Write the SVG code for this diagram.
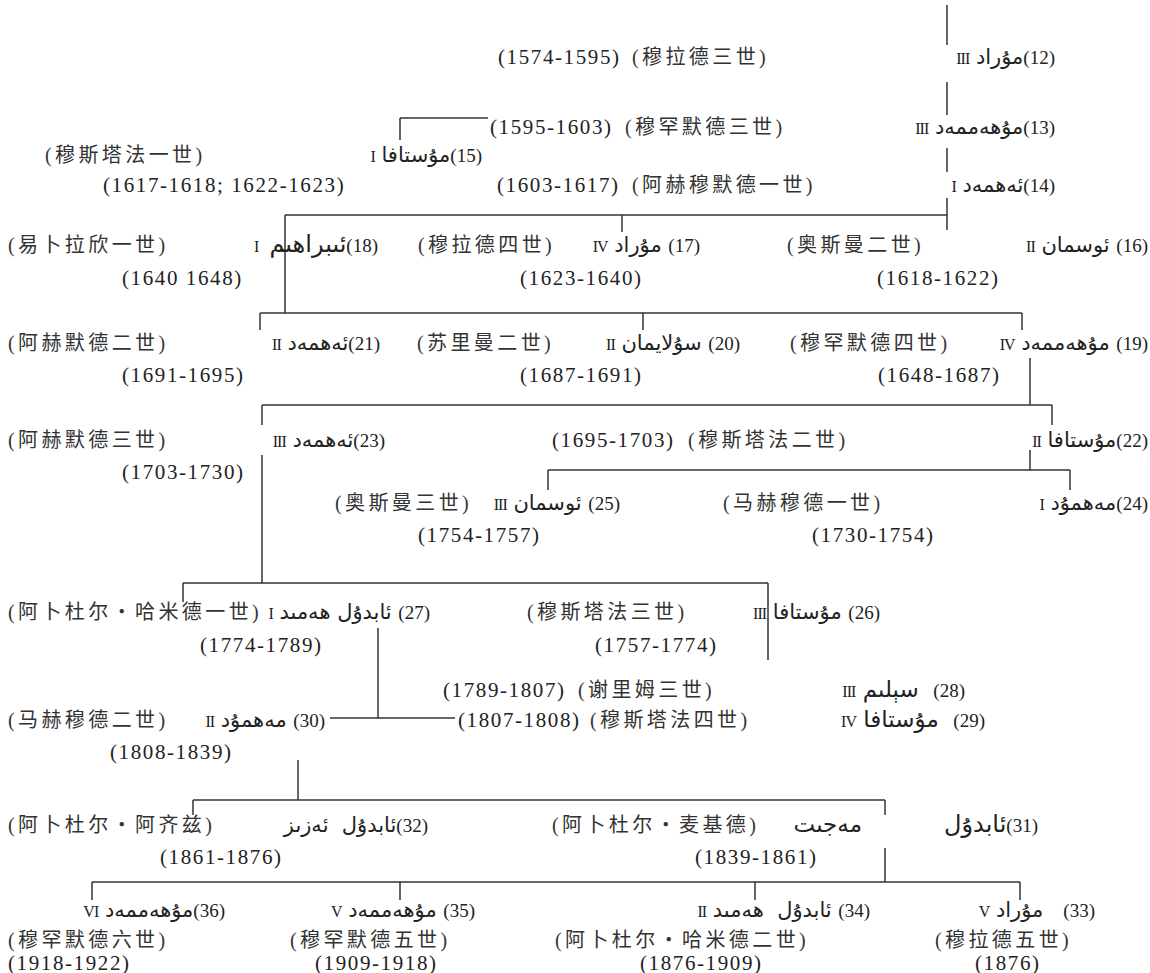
<svg xmlns="http://www.w3.org/2000/svg" width="1150" height="973" viewBox="0 0 1150 973">
<style>
.d{font-family:"Liberation Serif",serif;font-size:21px;letter-spacing:1.6px;fill:#222}
.c{font-family:"Liberation Serif","Noto Sans CJK SC",sans-serif;font-size:20px;letter-spacing:3.4px;fill:#333}
.u{font-family:"DejaVu Sans",sans-serif;font-size:21px;fill:#222;text-anchor:end;white-space:pre}
.n{font-family:"Liberation Serif",serif;font-size:19px;fill:#222}
.r{font-family:"Liberation Serif",serif;font-size:16px;letter-spacing:-1px;fill:#222}
.ln line{stroke:#333;stroke-width:1.5}
</style>
<rect width="1150" height="973" fill="#fff"/>
<g class="ln" id="connectors">
<line x1="947" y1="5" x2="947" y2="45"/>
<line x1="947" y1="82" x2="947" y2="115"/>
<line x1="947" y1="148" x2="947" y2="172"/>
<line x1="947" y1="198" x2="947" y2="230"/>
<line x1="400" y1="118" x2="488" y2="118"/>
<line x1="400" y1="118" x2="400" y2="140"/>
<line x1="285" y1="215" x2="947" y2="215"/>
<line x1="622" y1="215" x2="622" y2="232"/>
<line x1="285" y1="215" x2="285" y2="313"/>
<line x1="260" y1="313" x2="1022" y2="313"/>
<line x1="260" y1="313" x2="260" y2="330"/>
<line x1="643" y1="313" x2="643" y2="330"/>
<line x1="1022" y1="313" x2="1022" y2="330"/>
<line x1="1030" y1="358" x2="1030" y2="405"/>
<line x1="262" y1="405" x2="1052" y2="405"/>
<line x1="1052" y1="405" x2="1052" y2="425"/>
<line x1="262" y1="405" x2="262" y2="425"/>
<line x1="262" y1="455" x2="262" y2="583"/>
<line x1="1030" y1="450" x2="1030" y2="470"/>
<line x1="548" y1="470" x2="1070" y2="470"/>
<line x1="548" y1="470" x2="548" y2="490"/>
<line x1="1070" y1="470" x2="1070" y2="490"/>
<line x1="183" y1="583" x2="768" y2="583"/>
<line x1="183" y1="583" x2="183" y2="602"/>
<line x1="768" y1="583" x2="768" y2="660"/>
<line x1="378" y1="628" x2="378" y2="718"/>
<line x1="330" y1="718" x2="455" y2="718"/>
<line x1="298" y1="760" x2="298" y2="800"/>
<line x1="193" y1="800" x2="885" y2="800"/>
<line x1="193" y1="800" x2="193" y2="815"/>
<line x1="885" y1="800" x2="885" y2="815"/>
<line x1="885" y1="848" x2="885" y2="882"/>
<line x1="92" y1="882" x2="1020" y2="882"/>
<line x1="92" y1="882" x2="92" y2="900"/>
<line x1="400" y1="882" x2="400" y2="900"/>
<line x1="755" y1="882" x2="755" y2="900"/>
<line x1="1020" y1="882" x2="1020" y2="900"/>
</g>
<g id="n12">
<text class="d" x="498" y="64">(1574-1595)</text>
<text class="c" x="632" y="64">(穆拉德三世)</text>
<text class="u" x="1055" y="64"><tspan class="r">III</tspan> مۇراد&#x200E;<tspan class="n">(12)</tspan></text>
</g>
<g id="n13">
<text class="d" x="490" y="134">(1595-1603)</text>
<text class="c" x="625" y="134">(穆罕默德三世)</text>
<text class="u" x="1055" y="134"><tspan class="r">III</tspan> مۇھەممەد&#x200E;<tspan class="n">(13)</tspan></text>
</g>
<g id="n15">
<text class="c" x="45" y="162">(穆斯塔法一世)</text>
<text class="u" x="482" y="162"><tspan class="r">I</tspan> مۇستافا&#x200E;<tspan class="n">(15)</tspan></text>
<text class="d" x="103" y="192">(1617-1618; 1622-1623)</text>
</g>
<g id="n14">
<text class="d" x="497" y="192">(1603-1617)</text>
<text class="c" x="632" y="192">(阿赫穆默德一世)</text>
<text class="u" x="1055" y="192"><tspan class="r">I</tspan> ئەھمەد&#x200E;<tspan class="n">(14)</tspan></text>
</g>
<g id="n18">
<text class="c" x="8" y="252">(易卜拉欣一世)</text>
<text class="r" x="254" y="252">I</text>
<text class="u" x="378" y="252" style="font-size:24px">ئىبراھىم&#x200E;<tspan class="n">(18)</tspan></text>
<text class="d" x="122" y="285">(1640 1648)</text>
</g>
<g id="n17">
<text class="c" x="418" y="252">(穆拉德四世)</text>
<text class="u" x="700" y="252"><tspan class="r">IV</tspan> مۇراد&#x200E; <tspan class="n">(17)</tspan></text>
<text class="d" x="520" y="285">(1623-1640)</text>
</g>
<g id="n16">
<text class="c" x="787" y="252">(奥斯曼二世)</text>
<text class="u" x="1148" y="252"><tspan class="r">II</tspan> ئوسمان&#x200E; <tspan class="n">(16)</tspan></text>
<text class="d" x="877" y="285">(1618-1622)</text>
</g>
<g id="n21">
<text class="c" x="8" y="350">(阿赫默德二世)</text>
<text class="u" x="380" y="350"><tspan class="r">II</tspan> ئەھمەد&#x200E;<tspan class="n">(21)</tspan></text>
<text class="d" x="122" y="382">(1691-1695)</text>
</g>
<g id="n20">
<text class="c" x="417" y="350">(苏里曼二世)</text>
<text class="u" x="740" y="350"><tspan class="r">II</tspan> سۇلايمان&#x200E; <tspan class="n">(20)</tspan></text>
<text class="d" x="520" y="382">(1687-1691)</text>
</g>
<g id="n19">
<text class="c" x="790" y="350">(穆罕默德四世)</text>
<text class="u" x="1148" y="350"><tspan class="r">IV</tspan> مۇھەممەد&#x200E; <tspan class="n">(19)</tspan></text>
<text class="d" x="878" y="382">(1648-1687)</text>
</g>
<g id="n23">
<text class="c" x="8" y="447">(阿赫默德三世)</text>
<text class="u" x="385" y="447"><tspan class="r">III</tspan> ئەھمەد&#x200E;<tspan class="n">(23)</tspan></text>
<text class="d" x="122" y="479">(1703-1730)</text>
</g>
<g id="n22">
<text class="d" x="552" y="447">(1695-1703)</text>
<text class="c" x="688" y="447">(穆斯塔法二世)</text>
<text class="u" x="1148" y="447"><tspan class="r">II</tspan> مۇستافا&#x200E;<tspan class="n">(22)</tspan></text>
</g>
<g id="n25">
<text class="c" x="335" y="510">(奥斯曼三世)</text>
<text class="u" x="620" y="510"><tspan class="r">III</tspan> ئوسمان&#x200E; <tspan class="n">(25)</tspan></text>
<text class="d" x="418" y="542">(1754-1757)</text>
</g>
<g id="n24">
<text class="c" x="723" y="510">(马赫穆德一世)</text>
<text class="u" x="1148" y="510"><tspan class="r">I</tspan> مەھمۇد&#x200E;<tspan class="n">(24)</tspan></text>
<text class="d" x="812" y="542">(1730-1754)</text>
</g>
<g id="n27">
<text class="c" x="8" y="619">(阿卜杜尔・哈米德一世)</text>
<text class="u" x="430" y="619"><tspan class="r">I</tspan> ئابدۇل ھەمىد&#x200E; <tspan class="n">(27)</tspan></text>
<text class="d" x="200" y="652">(1774-1789)</text>
</g>
<g id="n26">
<text class="c" x="527" y="619">(穆斯塔法三世)</text>
<text class="u" x="880" y="619"><tspan class="r">III</tspan> مۇستافا&#x200E; <tspan class="n">(26)</tspan></text>
<text class="d" x="595" y="652">(1757-1774)</text>
</g>
<g id="n28">
<text class="d" x="443" y="697">(1789-1807)</text>
<text class="c" x="578" y="697">(谢里姆三世)</text>
<text class="u" x="965" y="697" style="font-size:23px"><tspan class="r">III</tspan> سېلىم&#x200E;  <tspan class="n">(28)</tspan></text>
</g>
<g id="n30">
<text class="c" x="8" y="727">(马赫穆德二世)</text>
<text class="u" x="325" y="727"><tspan class="r">II</tspan> مەھمۇد&#x200E; <tspan class="n">(30)</tspan></text>
<text class="d" x="110" y="759">(1808-1839)</text>
</g>
<g id="n29">
<text class="d" x="458" y="727">(1807-1808)</text>
<text class="c" x="590" y="727">(穆斯塔法四世)</text>
<text class="u" x="985" y="727" style="font-size:23px"><tspan class="r">IV</tspan> مۇستافا&#x200E;  <tspan class="n">(29)</tspan></text>
</g>
<g id="n32">
<text class="c" x="8" y="832">(阿卜杜尔・阿齐兹)</text>
<text class="u" x="428" y="832">ئابدۇل  ئەزىز&#x200E;<tspan class="n">(32)</tspan></text>
<text class="d" x="160" y="864">(1861-1876)</text>
</g>
<g id="n31">
<text class="c" x="552" y="832">(阿卜杜尔・麦基德)</text>
<text class="u" x="862" y="832" style="font-size:23px">مەجىت</text>
<text class="u" x="1038" y="832" style="font-size:24px">ئابدۇل&#x200E;<tspan class="n">(31)</tspan></text>
<text class="d" x="695" y="864">(1839-1861)</text>
</g>
<g id="n36">
<text class="u" x="225" y="917"><tspan class="r">VI</tspan> مۇھەممەد&#x200E;<tspan class="n">(36)</tspan></text>
<text class="c" x="8" y="947">(穆罕默德六世)</text>
<text class="d" x="8" y="970">(1918-1922)</text>
</g>
<g id="n35">
<text class="u" x="475" y="917"><tspan class="r">V</tspan> مۇھەممەد&#x200E; <tspan class="n">(35)</tspan></text>
<text class="c" x="290" y="947">(穆罕默德五世)</text>
<text class="d" x="315" y="970">(1909-1918)</text>
</g>
<g id="n34">
<text class="u" x="870" y="917"><tspan class="r">II</tspan> ئابدۇل  ھەمىد&#x200E; <tspan class="n">(34)</tspan></text>
<text class="c" x="555" y="947">(阿卜杜尔・哈米德二世)</text>
<text class="d" x="640" y="970">(1876-1909)</text>
</g>
<g id="n33">
<text class="u" x="1095" y="917"><tspan class="r">V</tspan> مۇراد&#x200E;   <tspan class="n">(33)</tspan></text>
<text class="c" x="935" y="947">(穆拉德五世)</text>
<text class="d" x="975" y="970">(1876)</text>
</g>
</svg>
